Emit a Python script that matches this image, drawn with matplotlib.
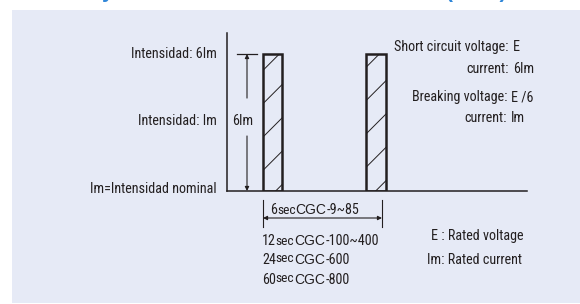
import matplotlib
matplotlib.use("Agg")
import warnings
warnings.filterwarnings("ignore")
import matplotlib.pyplot as plt
from matplotlib import font_manager as fm
from matplotlib.font_manager import FontProperties
from matplotlib.patches import Rectangle

# ---------------- data ----------------
pulse_current = [6, 6]               # pulse amplitude in multiples of Im
current_labels = ["Intensidad: 6Im", "Intensidad: Im", "Im=Intensidad nominal"]
current_label_values = [6, 3.07, 0]  # level (Im units) each label sits at
dim_label = "6Im"
short_circuit = [("Short circuit voltage:", "E"), ("current:", "6Im")]
breaking = [("Breaking voltage:", "E /6"), ("current:", "Im")]
durations = [("6", "sec", "CGC", "-9~85"),
             ("12", "sec", "CGC", "-100~400"),
             ("24", "sec", "CGC", "-600"),
             ("60", "sec", "CGC", "-800")]
legend_lines = ["E : Rated voltage", "Im: Rated current"]

# ---------------- style ----------------
INK = "#231f20"
PANEL = "#e6eaf6"
BLUE = "#2f86d8"
WIDE = "Liberation Sans"

W, H = 580, 304
fig = plt.figure(figsize=(W / 100, H / 100), dpi=100)
fig.patch.set_facecolor("white")
renderer = fig.canvas.get_renderer()

PREFERRED = ["Liberation Sans Narrow", "Arial Narrow", "Nimbus Sans Narrow",
             "Roboto Condensed", "Archivo Narrow", "IBM Plex Sans Condensed",
             "Fira Sans Condensed", "Pragati Narrow", "PT Sans Narrow",
             "Sofia Sans Condensed", "Encode Sans Condensed", "Asap Condensed",
             "Barlow Semi Condensed"]
FNAME = None
for cand in PREFERRED:
    hits = [f for f in fm.fontManager.ttflist
            if f.name == cand and f.style == "normal"
            and f.weight in (400, "normal", "regular", "book")]
    if hits:
        FNAME = sorted(hits, key=lambda f: len(f.fname))[0].fname
        break

TARGET_W, TARGET_CAP = 91.0, 10.7
SAMPLE = current_labels[0]


def base_prop(size):
    if FNAME:
        return FontProperties(fname=FNAME, size=size)
    return FontProperties(family=WIDE, size=size)


w10, _, _ = renderer.get_text_width_height_descent(SAMPLE, base_prop(10), ismath=False)
_, h10, _ = renderer.get_text_width_height_descent("I", base_prop(10), ismath=False)
FS = 10 * TARGET_W / w10
if h10 > 0 and h10 * FS / 10 > TARGET_CAP * 1.05:
    FS = 10 * TARGET_CAP * 1.05 / h10
if h10 > 0 and h10 * FS / 10 < TARGET_CAP * 0.9:
    FS = 10 * TARGET_CAP * 0.9 / h10


def P(scale=1.0):
    return base_prop(FS * scale)


# pixel-space overlay
ax0 = fig.add_axes([0, 0, 1, 1])
ax0.set_xlim(0, W)
ax0.set_ylim(H, 0)
ax0.axis("off")
ax0.add_patch(Rectangle((12, 10), W - 12, 293, facecolor=PANEL, edgecolor="none", zorder=0))

# cut-off title fragments at the very top (as in the reference)
fig.text(102 / W, 1 + 1.5 / H, "y", color=BLUE, fontsize=15, fontweight="bold",
         family=WIDE, va="baseline", ha="left")
fig.text(446 / W, 1 + 1.5 / H, "(CGC)", color=BLUE, fontsize=15, fontweight="bold",
         family=WIDE, va="baseline", ha="left")

# chart axes: baseline at y=191px, 6Im at y=54px
y0_px, y6_px, top_px = 191, 54, 33
x_left_px, x_right_px = 227, 527
per_unit = (y0_px - y6_px) / 6.0
axc = fig.add_axes([x_left_px / W, (H - y0_px) / H, (x_right_px - x_left_px) / W,
                    (y0_px - top_px) / H])
axc.set_xlim(0, x_right_px - x_left_px)
axc.set_ylim(0, (y0_px - top_px) / per_unit)
axc.patch.set_alpha(0)
for s in ("top", "right"):
    axc.spines[s].set_visible(False)
for s in ("left", "bottom"):
    axc.spines[s].set_color(INK)
    axc.spines[s].set_linewidth(1.1)
axc.set_xticks([])
axc.set_yticks([])

plt.rcParams["hatch.linewidth"] = 0.7
bar_x = [45.5, 149.0]
axc.bar(bar_x, pulse_current, width=19.5, bottom=0, facecolor="none", edgecolor=INK,
        linewidth=1.8, hatch="/", zorder=3)

# 6Im dimension
dx = 20
axc.plot([10, 30], [pulse_current[0]] * 2, color=INK, lw=0.9, clip_on=False)
ap = dict(arrowstyle="-|>", color=INK, lw=0.8, mutation_scale=6, shrinkA=0, shrinkB=0)
axc.annotate("", xy=(dx, pulse_current[0]), xytext=(dx, 4.07), arrowprops=ap)
axc.annotate("", xy=(dx, 0), xytext=(dx, 2.41), arrowprops=ap)
axc.text(15.5, 3.07, dim_label, color=INK, fontproperties=P(), ha="center", va="center")

# left labels
for lab, v in zip(current_labels, current_label_values):
    ypx = y0_px - v * per_unit - (2 if v == 0 else 0)
    ax0.text(217, ypx, lab, color=INK, fontproperties=P(), ha="right", va="center")


# right block
def pair_block(rows, ys, colon_x):
    for (a, b), y in zip(rows, ys):
        ax0.text(colon_x, y, a, color=INK, fontproperties=P(), ha="right", va="center")
        ax0.text(colon_x + 4, y, b, color=INK, fontproperties=P(), ha="left", va="center")


pair_block(short_circuit, [47, 69], 509)
pair_block(breaking, [97, 118], 507)

# bottom duration dimension
ax0.plot([263, 263], [200, 227], color=INK, lw=0.8)
ax0.plot([382, 382], [200, 227], color=INK, lw=0.8)
ax0.annotate("", xy=(263, 218), xytext=(382, 218),
             arrowprops=dict(arrowstyle="<|-|>", color=INK, lw=0.8, mutation_scale=6,
                             shrinkA=0, shrinkB=0))


def piece_line(x, y, parts):
    for txt, prop, dy in parts:
        t = ax0.text(x, y - dy, txt, color=INK, fontproperties=prop,
                     ha="left", va="baseline")
        bb = t.get_window_extent(renderer=renderer)
        x += bb.width


base_y = [214, 245, 264, 284]
start_x = [270, 262, 262, 262]
raise_sec = [0, 0, 2.5, 2.5]
for (num, sec, cgc, rest), y, x, r in zip(durations, base_y, start_x, raise_sec):
    piece_line(x, y, [(num, P(), 0), (sec, P(0.95), r),
                      (cgc, FontProperties(family=WIDE, size=FS * 0.98), 0),
                      (rest, P(), 0)])

ax0.text(431, 236, legend_lines[0], color=INK, fontproperties=P(), ha="left", va="center")
ax0.text(427, 260, legend_lines[1], color=INK, fontproperties=P(), ha="left", va="center")

fig.savefig("out.png", dpi=100)
